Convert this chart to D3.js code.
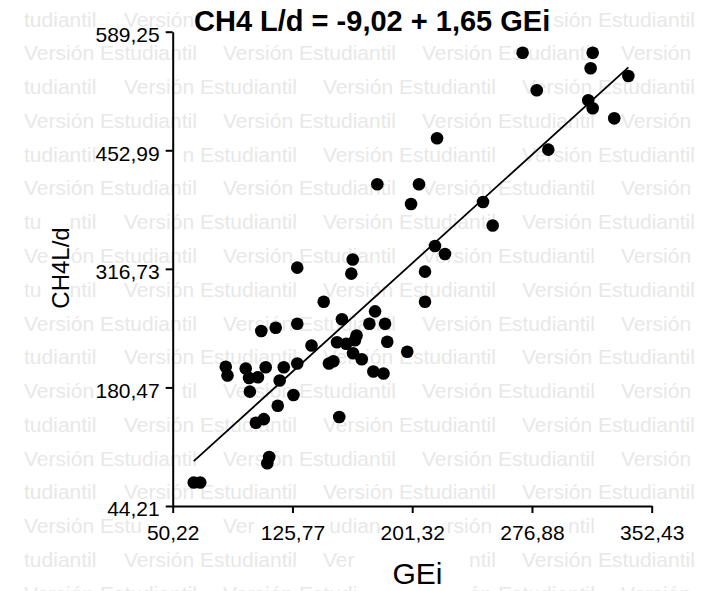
<!DOCTYPE html>
<html>
<head>
<meta charset="utf-8">
<script src="https://cdn.jsdelivr.net/npm/d3@7"></script>
<style>
body{margin:0;background:#fff;}
svg{display:block;font-family:"Liberation Sans",Arial,sans-serif;}
.wm text{white-space:pre;}
</style>
</head>
<body>
<svg id="chart" width="702" height="591"></svg>
<script>
// values
const gei = [271.0, 315.2, 313.9, 337.7, 279.9, 312.4, 315.2, 328.8, 287.2, 217.0,
	179.3, 205.6, 200.6, 246.0, 252.1, 215.7, 222.0, 163.8, 162.9, 209.4,
	209.4, 128.8, 145.5, 177.9, 157.0, 174.3, 184.2, 106.1, 115.2, 128.8,
	137.8, 153.9, 159.7, 166.2, 165.2, 185.6, 148.8, 151.6, 164.0, 169.5,
	198.2, 176.8, 183.2, 83.7, 84.8, 96.3, 98.4, 104.0, 108.9, 120.3,
	128.8, 117.7, 98.9, 126.4, 116.5, 102.7, 107.7, 155.3, 111.1, 109.9,
	63.5, 67.6];
const ch4 = [565.1, 565.1, 547.2, 538.3, 521.9, 510.4, 501.2, 489.7, 453.7, 466.8,
	414.0, 414.0, 391.3, 393.6, 366.5, 343.0, 333.8, 327.5, 311.2, 313.5,
	279.0, 318.1, 279.0, 267.9, 258.8, 253.6, 253.6, 245.3, 249.1, 253.7,
	228.6, 232.3, 230.7, 240.1, 234.6, 233.0, 208.0, 210.6, 219.7, 212.8,
	221.5, 198.8, 196.5, 204.2, 194.2, 202.2, 191.3, 192.1, 203.7, 203.7,
	208.0, 188.4, 175.6, 171.8, 159.4, 139.9, 144.0, 146.5, 100.5, 93.3,
	71.2, 71.2];
const xTicks = [50.22, 125.77, 201.32, 276.88, 352.43];
const yTicks = [44.21, 180.47, 316.73, 452.99, 589.25];
const intercept = -9.02, slope = 1.65;
const titleText = 'CH4 L/d = -9,02 + 1,65 GEi';
const xTitle = 'GEi';
const yTitle = 'CH4L/d';
const wmWord = 'Versi\u00f3n Estudiantil';
const wmHead = 'Versi\u00f3n';
const wmTail = 'tudiantil';

const svg = d3.select('#chart');
const x = d3.scaleLinear().domain([xTicks[0], xTicks[4]]).range([172.7, 651.7]);
const y = d3.scaleLinear().domain([yTicks[0], yTicks[4]]).range([506, 31.7]);
const fmt = v => d3.format('.2f')(v).replace('.', ',');

//watermark rows, drawn one char per tspan so chars under labels can be dropped
const wm = svg.append('g').attr('class', 'wm')
	.attr('fill', '#e8e8e8').style('font-size', '21px');

d3.range(18).forEach(k => {
	var by = 26.5 + 33.78 * k;
	var items = k % 2 == 0
		? [[24, wmTail], [124, wmWord], [323, wmWord], [522, wmWord]]
		: [[24, wmWord], [223, wmWord], [422, wmWord], [621, wmHead]];
	items.forEach(it => {
		var t = wm.append('text').attr('x', it[0]).attr('y', by).attr('data-base', by);
		t.selectAll('tspan').data(Array.from(it[1])).join('tspan').text(c => c);
	});
});

// axes
const gy = svg.append('g')
	.attr('transform', 'translate(172.7,0)')
	.call(d3.axisLeft(y).tickValues(yTicks).tickSize(7).tickSizeOuter(0).tickPadding(6).tickFormat(fmt));

const gx = svg.append('g')
	.attr('transform', 'translate(0,506)')
	.call(d3.axisBottom(x).tickValues(xTicks).tickSize(7).tickSizeOuter(0).tickPadding(12).tickFormat(fmt));

[gy, gx].forEach(g => {
	g.attr('font-size', null).attr('font-family', null);
	g.selectAll('path, line').attr('stroke', '#000').attr('stroke-width', 2);
	g.selectAll('text').attr('fill', '#000').style('font-size', '21px');
});
gy.selectAll('text').attr('dy', '0.47em');

// regression line over the data range
const xr = d3.extent(gei);
svg.append('path')
	.attr('d', d3.line().x(d => x(d)).y(d => y(intercept + slope * d))(xr))
	.attr('stroke', '#000').attr('stroke-width', 1.8).attr('fill', 'none');

svg.append('g').selectAll('circle')
	.data(d3.zip(gei, ch4))
	.join('circle')
	.attr('cx', d => x(d[0]))
	.attr('cy', d => y(d[1]))
	.attr('r', 6.3)
	.attr('fill', '#000');

const title = svg.append('text')
	.attr('x', 194).attr('y', 30.5)
	.style('font-size', '29px').style('font-weight', 'bold')
	.text(titleText);

const xLab = svg.append('text')
	.attr('x', 417.5).attr('y', 584)
	.attr('text-anchor', 'middle')
	.style('font-size', '30px')
	.text(xTitle);

const yLab = svg.append('text')
	.attr('transform', 'translate(69,268) rotate(-90)')
	.attr('text-anchor', 'middle')
	.style('font-size', '24px')
	.text(yTitle);

// boxes that knock out watermark characters
var boxes = [];
function tightBox(el, f, rotated){
	var r = el.getBoundingClientRect();
	if (rotated){
		var b = r.right - 0.212 * f;
		boxes.push([b - 0.72 * f, r.top, b + 0.05 * f, r.bottom]);
	} else {
		var b = r.bottom - 0.212 * f;
		boxes.push([r.left, b - 0.72 * f, r.right, b + 0.05 * f]);
	}
}
gy.selectAll('text').each(function(){ tightBox(this, 21, false); });
gx.selectAll('text').each(function(){ tightBox(this, 21, false); });
tightBox(title.node(), 29, false);
tightBox(yLab.node(), 24, true);
yTicks.forEach(v => boxes.push([165.7, y(v) - 1, 172, y(v) + 1]));
boxes.push([357, 545, 468, 600]);

function charHeight(c){
	if (c == 't') return 0.66 * 21;
	if ('VEdli\u00f3'.indexOf(c) >= 0) return 0.72 * 21;
	return 0.53 * 21;
}

wm.selectAll('text').each(function(){
	var base = +this.getAttribute('data-base');
	var spans = this.childNodes;
	for (var i = 0; i < spans.length; i++){
		var c = spans[i].textContent;
		if (c == ' ') continue;
		var e = this.getExtentOfChar(i);
		var cb = [e.x + 1, base - charHeight(c) + 1, e.x + e.width - 1, base - 1];
		var hit = boxes.some(b => cb[0] < b[2] && cb[2] > b[0] && cb[1] < b[3] && cb[3] > b[1]);
		if (hit) spans[i].setAttribute('fill-opacity', 0);
	}
});
</script>
</body>
</html>
